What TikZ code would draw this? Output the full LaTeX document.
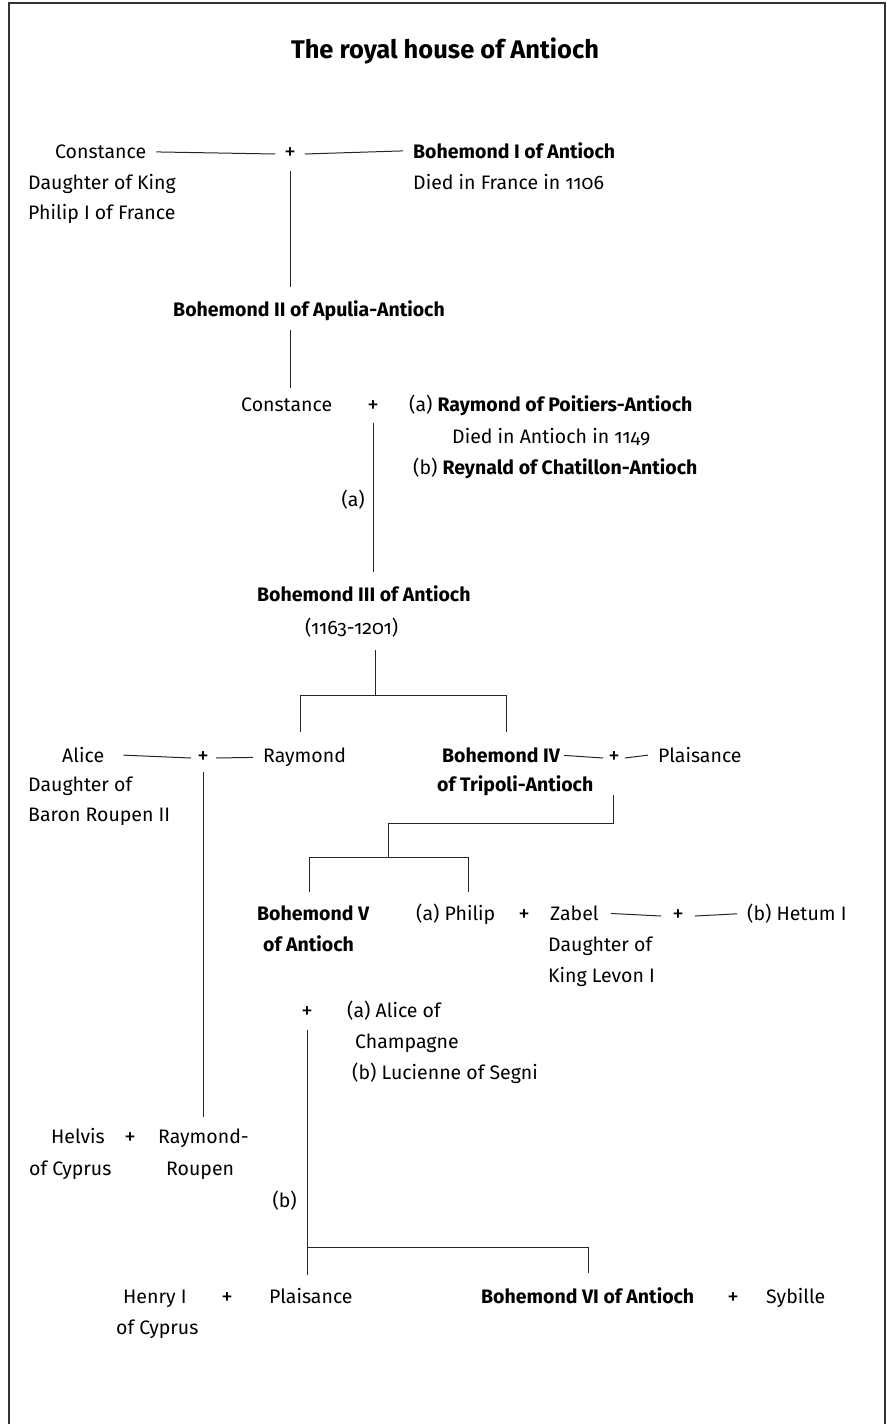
\documentclass[tikz,border=0pt]{standalone}
\usepackage{fontspec}
\setmainfont{Fira Sans}[Numbers=OldStyle]
\begin{document}
\begin{tikzpicture}[x=1pt,y=-1pt,
  txt/.style={inner sep=0pt,anchor=mid west,yshift=-4pt,font=\fontsize{19.5}{23}\selectfont},
  bld/.style={txt,font=\fontsize{19.5}{23}\selectfont\bfseries},
  plus/.style={inner sep=1pt,anchor=center,yshift=-2pt,font=\fontsize{23}{26}\selectfont},
  ttl/.style={inner sep=0pt,anchor=mid,yshift=-3pt,font=\fontsize{25.5}{30}\selectfont\bfseries},
  ln/.style={draw=black!85,line width=1pt},
  frm/.style={draw=black!80,line width=2pt}]
\useasboundingbox (0,0) rectangle (889,1424);
% open frame: left, top and right sides
\draw[frm] (9,1424) -- (9,3) -- (885,3) -- (885,1424);

\node[ttl] (title) at (445,53) {The royal house of Antioch};

% Bohemond I and Constance of France
\node[txt] (c1) at (55,152) {Constance};
\node[plus] (p1) at (290,152) {+};
\node[bld] (b1) at (413,152) {Bohemond I of Antioch};
\node[txt] (c1a) at (28,183) {Daughter of King};
\node[txt] (c1b) at (28,213) {Philip I of France};
\node[txt] (b1a) at (413,183) {Died in France in 1106};
\draw[ln] ([xshift=10pt]c1.east) -- ([xshift=-8pt]p1.west);
\draw[ln] ([xshift=8pt]p1.east) -- ([xshift=-10pt]b1.west);

% Bohemond II
\node[txt,anchor=mid] (b2) at (309,310) {\bfseries Bohemond II of Apulia-Antioch};
\coordinate (v1a) at (290,171);
\coordinate (v1b) at (290,287);
\draw[ln] (v1a) -- (v1b);
\coordinate (v2a) at (290,330);
\coordinate (v2b) at (290,388);
\draw[ln] (v2a) -- (v2b);

% Constance and her husbands
\node[txt] (c2) at (241,405) {Constance};
\node[plus] (p2) at (373,405) {+};
\node[txt] (r1) at (409,405) {(a) \textbf{Raymond of Poitiers-Antioch}};
\node[txt] (r1a) at (452,437) {Died in Antioch in 1149};
\node[txt] (r2) at (413,468) {(b) \textbf{Reynald of Chatillon-Antioch}};
\coordinate (v3a) at (373,423);
\coordinate (v3b) at (373,572);
\draw[ln] (v3a) -- (v3b);
\node[txt,anchor=mid east] (la) at (365,500) {(a)};

% Bohemond III
\node[bld] (b3) at (257,595) {Bohemond III of Antioch};
\node[txt] (b3a) at (305,628) {(1163-1201)};
\coordinate (v4a) at (375,650);
\coordinate (v4b) at (375,695);
\coordinate (h1a) at (300,695);
\coordinate (h1b) at (506,695);
\draw[ln] (v4a) -- (v4b);
\draw[ln] (h1a |- v4b) -- (h1b);
\draw[ln] (h1a) -- ++(0,37);
\draw[ln] (h1b) -- ++(0,37);

% Raymond and Alice
\node[txt] (al) at (62,756) {Alice};
\node[plus] (p3) at (203,756) {+};
\node[txt] (ry) at (263,756) {Raymond};
\node[txt] (al1) at (28,785) {Daughter of};
\node[txt] (al2) at (28,815) {Baron Roupen II};
\draw[ln] ([xshift=19pt]al.east) -- ([xshift=-5pt]p3.west);
\draw[ln] ([xshift=6pt]p3.east) -- ([xshift=-10pt]ry.west);

% Bohemond IV and Plaisance
\node[bld] (b4) at (442,756) {Bohemond IV};
\node[plus] (p4) at (614,756) {+};
\node[txt] (pl) at (658,756) {Plaisance};
\node[bld] (b4a) at (437,785) {of Tripoli-Antioch};
\draw[ln] ([xshift=4pt]b4.east) -- ([xshift=-4pt]p4.west);
\draw[ln] ([xshift=4pt]p4.east) -- ([xshift=-10pt]pl.west);
\coordinate (v5a) at (613,795);
\coordinate (v5b) at (613,823);
\coordinate (v6a) at (388,823);
\coordinate (v6b) at (388,857);
\coordinate (h2a) at (309,857);
\coordinate (h2b) at (468,857);
\draw[ln] (v5a) -- (v5b) -- (v6a) -- (v6b);
\draw[ln] (h2a) -- (h2b);
\draw[ln] (h2a) -- ++(0,35);
\draw[ln] (h2b) -- ++(0,35);

% Raymond-Roupen line
\coordinate (v7a) at (203,772);
\coordinate (v7b) at (203,1117);
\draw[ln] (v7a) -- (v7b);

% Bohemond V, Philip, Zabel, Hetum
\node[bld] (b5) at (257,914) {Bohemond V};
\node[bld] (b5a) at (263,945) {of Antioch};
\node[txt] (ph) at (416,914) {(a) Philip};
\node[plus] (p5) at (524,914) {+};
\node[txt] (zb) at (550,914) {Zabel};
\node[plus] (p6) at (678,914) {+};
\node[txt] (he) at (747,914) {(b) Hetum I};
\node[txt] (zb1) at (548,945) {Daughter of};
\node[txt] (zb2) at (548,976) {King Levon I};
\draw[ln] ([xshift=12pt]zb.east) -- ([xshift=-10pt]p6.west);
\draw[ln] ([xshift=10pt]p6.east) -- ([xshift=-10pt]he.west);

% wives of Bohemond V
\node[plus] (p7) at (307,1011) {+};
\node[txt] (ac) at (347,1011) {(a) Alice of};
\node[txt] (ch) at (355,1042) {Champagne};
\node[txt] (lu) at (352,1073) {(b) Lucienne of Segni};
\coordinate (v8a) at (307,1030);
\coordinate (v8b) at (307,1247);
\coordinate (h3b) at (588,1247);
\draw[ln] (v8a) -- (v8b) -- (h3b);
\draw[ln] (v8b) -- ++(0,28);
\draw[ln] (h3b) -- ++(0,26);
\node[txt,anchor=mid east] (lb) at (297,1201) {(b)};

% Helvis and Raymond-Roupen
\node[txt] (hv) at (51,1137) {Helvis};
\node[plus] (p8) at (130,1137) {+};
\node[txt] (rr) at (158,1137) {Raymond-};
\node[txt] (hv1) at (29,1169) {of Cyprus};
\node[txt] (rr1) at (166,1169) {Roupen};

% last generation
\node[txt] (hn) at (123,1297) {Henry I};
\node[plus] (p9) at (227,1297) {+};
\node[txt] (pl2) at (269,1297) {Plaisance};
\node[txt] (hn1) at (116,1328) {of Cyprus};
\node[bld] (b6) at (481,1297) {Bohemond VI of Antioch};
\node[plus] (p10) at (733,1297) {+};
\node[txt] (sy) at (766,1297) {Sybille};
\end{tikzpicture}
\end{document}
